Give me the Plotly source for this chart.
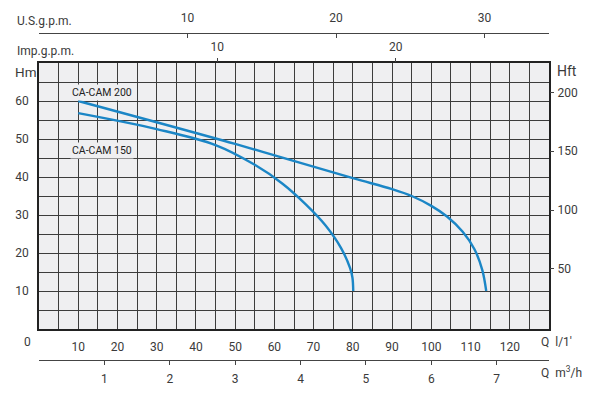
import plotly.graph_objects as go

# ---- data (Q in l/min, H in m) ----
q200 = [10, 50, 80, 90, 95, 100, 104, 108, 111, 113, 114]
h200 = [60, 48.7, 39.7, 36.8, 35.0, 32.4, 29.6, 25.6, 21.0, 15.5, 10]
q150 = [10, 30, 45, 55, 62, 68, 73, 77, 79.3, 79.9, 80.1]
h150 = [56.8, 52.6, 48.4, 43.2, 38.3, 32.8, 27.3, 21.3, 16.0, 13.5, 10]
names = ["CA-CAM 200", "CA-CAM 150"]

q_ticks = list(range(10, 121, 10))
h_ticks = list(range(10, 61, 10))
hft_ticks = [50, 100, 150, 200]
usg_ticks = [10, 20, 30]
imp_ticks = [10, 20]
m3h_ticks = [1, 2, 3, 4, 5, 6, 7]

Q_MAX = 130
H_MAX = 70
US_GAL = 3.78541
IMP_GAL = 4.54609

FONT = "Roboto"
TXT = "#3a3a3a"
GRID = "#3c3c3c"
BLUE = "#1b86c6"

fig = go.Figure()
for q, h, n in [(q200, h200, names[0]), (q150, h150, names[1])]:
    fig.add_trace(go.Scatter(x=q, y=h, mode="lines",
                             line=dict(color=BLUE, width=2.4, shape="spline", smoothing=1.0),
                             name=n, showlegend=False, hoverinfo="skip"))

ydom = [(400 - 329) / 400, (400 - 63) / 400]

tf = dict(family=FONT, size=12, color=TXT)
minor_grid = dict(dtick=5, showgrid=True, gridcolor=GRID, gridwidth=1.2, ticks="")

fig.update_layout(
    width=600, height=400,
    margin=dict(l=39, r=51, t=0, b=0),
    paper_bgcolor="white",
    plot_bgcolor="#efeff1",
    font=tf,
    xaxis=dict(range=[0, Q_MAX], domain=[0, 1], anchor="y",
               tickvals=q_ticks, ticks="", showgrid=True, gridcolor=GRID, gridwidth=1.2,
               minor=minor_grid,
               showline=True, linecolor="#222", linewidth=1.5, mirror=True,
               zeroline=False, ticklabelstandoff=6, tickfont=tf),
    yaxis=dict(range=[0, H_MAX], domain=ydom, anchor="x",
               tickvals=h_ticks, ticks="", showgrid=True, gridcolor=GRID, gridwidth=1.2,
               minor=minor_grid,
               showline=True, linecolor="#222", linewidth=1.5, mirror=True,
               zeroline=False, ticklabelstandoff=6, tickfont=tf),
    yaxis2=dict(range=[-1, 225], overlaying="y", side="right", anchor="x",
                tickvals=hft_ticks, ticks="outside", ticklen=4, tickcolor="#444",
                showgrid=False, zeroline=False, showline=False,
                ticklabelstandoff=1, tickfont=tf),
    xaxis2=dict(range=[0, Q_MAX / US_GAL], overlaying="x", side="top", anchor="free",
                position=(400 - 33) / 400,
                tickvals=usg_ticks, ticks="inside", ticklen=4, tickcolor="#444",
                showgrid=False, zeroline=False, showline=True, linecolor="#444", linewidth=1.2,
                ticklabelstandoff=6, tickfont=tf),
    xaxis3=dict(range=[0, Q_MAX / IMP_GAL], overlaying="x", side="top", anchor="y",
                tickvals=imp_ticks, ticks="outside", ticklen=4, tickcolor="#444",
                showgrid=False, zeroline=False, showline=False,
                ticklabelstandoff=2, tickfont=tf),
    xaxis4=dict(range=[0, Q_MAX * 60 / 1000], overlaying="x", side="bottom", anchor="free",
                position=(400 - 360) / 400,
                tickvals=m3h_ticks, ticks="outside", ticklen=4, tickcolor="#444",
                showgrid=False, zeroline=False, showline=True, linecolor="#444", linewidth=1.2,
                ticklabelstandoff=3, tickfont=tf),
)

# dummy traces to activate extra axes
fig.add_trace(go.Scatter(x=[None], y=[None], yaxis="y2", showlegend=False))
fig.add_trace(go.Scatter(x=[None], y=[None], xaxis="x2", showlegend=False))
fig.add_trace(go.Scatter(x=[None], y=[None], xaxis="x3", showlegend=False))
fig.add_trace(go.Scatter(x=[None], y=[None], xaxis="x4", showlegend=False))


def px_x(px):
    return (px - 39) / 510


def px_y(py):
    return (400 - py) / 400


anns = [
    ("U.S.g.p.m.", 15, 21, "left", 12),
    ("Imp.g.p.m.", 15, 51, "left", 12),
    ("Hm", 13, 72, "left", 13.5),
    ("Hft", 555, 71, "left", 14),
    ("0", 27, 342, "center", 12),
    ("Q  l/1'", 539, 342, "left", 12),
    ("Q  m<sup>3</sup>/h", 539, 372, "left", 12),
]
for text, x, y, al, sz in anns:
    fig.add_annotation(text=text, xref="paper", yref="paper", x=px_x(x), y=px_y(y),
                       xanchor=al, yanchor="middle", showarrow=False,
                       font=dict(family=FONT, size=sz, color=TXT))

for text, x, y in [(names[0], 70, 92), (names[1], 70, 151)]:
    fig.add_annotation(text=text, xref="paper", yref="paper", x=px_x(x), y=px_y(y),
                       xanchor="left", yanchor="middle", showarrow=False,
                       bgcolor="#efeff1", borderpad=1,
                       font=dict(family=FONT, size=10.5, color="#222"))

fig.write_html("out.html")
